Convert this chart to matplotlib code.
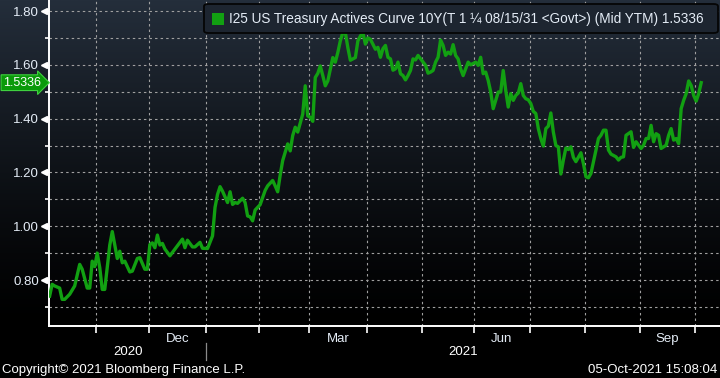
import numpy as np
import matplotlib
matplotlib.use("Agg")
import matplotlib.pyplot as plt
import matplotlib.transforms as mtransforms
from matplotlib.patches import FancyBboxPatch, Rectangle

# ---------------- data ----------------
dates = [
    "2020-10-06", "2020-10-07", "2020-10-08", "2020-10-12", "2020-10-13", "2020-10-14",
    "2020-10-16", "2020-10-20", "2020-10-22", "2020-10-23", "2020-10-27", "2020-10-28",
    "2020-10-29", "2020-10-30", "2020-11-02", "2020-11-03", "2020-11-04", "2020-11-05",
    "2020-11-09", "2020-11-10", "2020-11-12", "2020-11-13", "2020-11-16", "2020-11-17",
    "2020-11-19", "2020-11-20", "2020-11-24", "2020-11-25", "2020-11-27", "2020-11-30",
    "2020-12-01", "2020-12-02", "2020-12-03", "2020-12-04", "2020-12-07", "2020-12-08",
    "2020-12-09", "2020-12-11", "2020-12-15", "2020-12-16", "2020-12-18", "2020-12-21",
    "2020-12-22", "2020-12-24", "2020-12-25", "2020-12-29", "2020-12-30", "2021-01-01",
    "2021-01-05", "2021-01-06", "2021-01-07", "2021-01-08", "2021-01-11", "2021-01-13",
    "2021-01-14", "2021-01-15", "2021-01-18", "2021-01-19", "2021-01-21", "2021-01-22",
    "2021-01-25", "2021-01-26", "2021-01-27", "2021-01-28", "2021-02-01", "2021-02-03",
    "2021-02-04", "2021-02-08", "2021-02-09", "2021-02-10", "2021-02-11", "2021-02-12",
    "2021-02-16", "2021-02-17", "2021-02-18", "2021-02-19", "2021-02-22", "2021-02-24",
    "2021-02-25", "2021-02-26", "2021-03-01", "2021-03-02", "2021-03-03", "2021-03-04",
    "2021-03-05", "2021-03-08", "2021-03-09", "2021-03-10", "2021-03-12", "2021-03-15",
    "2021-03-16", "2021-03-17", "2021-03-18", "2021-03-19", "2021-03-22", "2021-03-23",
    "2021-03-25", "2021-03-26", "2021-03-29", "2021-03-30", "2021-03-31", "2021-04-01",
    "2021-04-02", "2021-04-06", "2021-04-07", "2021-04-08", "2021-04-09", "2021-04-12",
    "2021-04-13", "2021-04-14", "2021-04-15", "2021-04-16", "2021-04-19", "2021-04-20",
    "2021-04-21", "2021-04-22", "2021-04-23", "2021-04-26", "2021-04-27", "2021-04-28",
    "2021-04-29", "2021-05-03", "2021-05-04", "2021-05-05", "2021-05-06", "2021-05-07",
    "2021-05-10", "2021-05-11", "2021-05-12", "2021-05-13", "2021-05-14", "2021-05-17",
    "2021-05-18", "2021-05-19", "2021-05-20", "2021-05-21", "2021-05-24", "2021-05-25",
    "2021-05-26", "2021-05-27", "2021-05-28", "2021-06-01", "2021-06-02", "2021-06-03",
    "2021-06-04", "2021-06-07", "2021-06-08", "2021-06-09", "2021-06-10", "2021-06-11",
    "2021-06-14", "2021-06-15", "2021-06-16", "2021-06-17", "2021-06-18", "2021-06-21",
    "2021-06-22", "2021-06-23", "2021-06-24", "2021-06-25", "2021-06-28", "2021-06-29",
    "2021-06-30", "2021-07-01", "2021-07-02", "2021-07-05", "2021-07-06", "2021-07-07",
    "2021-07-08", "2021-07-09", "2021-07-12", "2021-07-13", "2021-07-14", "2021-07-15",
    "2021-07-16", "2021-07-19", "2021-07-20", "2021-07-21", "2021-07-22", "2021-07-23",
    "2021-07-26", "2021-07-27", "2021-07-29", "2021-07-30", "2021-08-02", "2021-08-03",
    "2021-08-04", "2021-08-06", "2021-08-09", "2021-08-10", "2021-08-11", "2021-08-12",
    "2021-08-13", "2021-08-16", "2021-08-18", "2021-08-19", "2021-08-20", "2021-08-23",
    "2021-08-24", "2021-08-26", "2021-08-27", "2021-08-30", "2021-09-01", "2021-09-02",
    "2021-09-03", "2021-09-06", "2021-09-07", "2021-09-08", "2021-09-09", "2021-09-10",
    "2021-09-13", "2021-09-14", "2021-09-15", "2021-09-16", "2021-09-17", "2021-09-20",
    "2021-09-21", "2021-09-22", "2021-09-23", "2021-09-24", "2021-09-27", "2021-09-28",
    "2021-09-29", "2021-09-30", "2021-10-01", "2021-10-04", "2021-10-05",
]
yields = [
    0.740, 0.784, 0.778, 0.770, 0.728, 0.728,
    0.747, 0.778, 0.858, 0.840, 0.770, 0.770,
    0.870, 0.850, 0.900, 0.846, 0.765, 0.765,
    0.930, 0.980, 0.880, 0.907, 0.864, 0.870,
    0.830, 0.833, 0.880, 0.883, 0.840, 0.840,
    0.932, 0.938, 0.920, 0.967, 0.930, 0.936,
    0.915, 0.890, 0.915, 0.927, 0.952, 0.920,
    0.948, 0.923, 0.923, 0.940, 0.918, 0.917,
    0.964, 1.070, 1.118, 1.147, 1.130, 1.088,
    1.128, 1.081, 1.088, 1.085, 1.104, 1.088,
    1.038, 1.035, 1.020, 1.060, 1.080, 1.133,
    1.150, 1.170, 1.150, 1.128, 1.190, 1.244,
    1.306, 1.280, 1.337, 1.368, 1.350, 1.417,
    1.522, 1.410, 1.405, 1.390, 1.553, 1.568,
    1.596, 1.560, 1.522, 1.540, 1.627, 1.610,
    1.646, 1.689, 1.720, 1.720, 1.664, 1.617,
    1.627, 1.689, 1.707, 1.720, 1.677, 1.700,
    1.695, 1.658, 1.665, 1.628, 1.660, 1.672,
    1.628, 1.622, 1.580, 1.585, 1.610, 1.567,
    1.560, 1.544, 1.560, 1.579, 1.622, 1.618,
    1.635, 1.610, 1.598, 1.569, 1.573, 1.579,
    1.610, 1.628, 1.692, 1.672, 1.635, 1.647,
    1.640, 1.675, 1.635, 1.622, 1.585, 1.560,
    1.585, 1.610, 1.600, 1.610, 1.598, 1.628,
    1.567, 1.573, 1.542, 1.499, 1.437, 1.468,
    1.499, 1.499, 1.579, 1.505, 1.443, 1.493,
    1.468, 1.486, 1.495, 1.530, 1.486, 1.474,
    1.470, 1.456, 1.427, 1.419, 1.363, 1.326,
    1.298, 1.363, 1.372, 1.421, 1.350, 1.300,
    1.295, 1.194, 1.246, 1.291, 1.285, 1.295,
    1.256, 1.240, 1.273, 1.233, 1.184, 1.180,
    1.196, 1.283, 1.326, 1.338, 1.357, 1.357,
    1.283, 1.268, 1.258, 1.246, 1.256, 1.258,
    1.338, 1.351, 1.293, 1.314, 1.289, 1.301,
    1.326, 1.326, 1.375, 1.314, 1.344, 1.338,
    1.289, 1.295, 1.301, 1.338, 1.363, 1.320,
    1.326, 1.307, 1.437, 1.468, 1.493, 1.540,
    1.523, 1.486, 1.465, 1.493, 1.5336,
]
last_value = 1.5336

month_starts = ["2020-11-01", "2020-12-01", "2021-01-01", "2021-02-01", "2021-03-01",
                "2021-04-01", "2021-05-01", "2021-06-01", "2021-07-01", "2021-08-01",
                "2021-09-01", "2021-10-01"]
labelled_months = [("Dec", "2020-12-01", "2021-01-01"), ("Mar", "2021-03-01", "2021-04-01"),
                   ("Jun", "2021-06-01", "2021-07-01"), ("Sep", "2021-09-01", "2021-10-01")]
years = ["2020", "2021"]
year_break = "2021-01-01"
origin = "2020-10-05"

y_major = [0.80, 1.00, 1.20, 1.40, 1.60, 1.80]
y_minor = [0.70, 0.90, 1.10, 1.30, 1.50, 1.70]

legend_text = "I25 US Treasury Actives Curve 10Y(T 1 \u00bc 08/15/31 <Govt>) (Mid YTM) 1.5336"
copyright_text = "Copyright\u00a9 2021 Bloomberg Finance L.P."
stamp_text = "05-Oct-2021 15:08:04"

# ---------------- styling ----------------
LINE = "#12a012"
TXT = "#e4ecf6"
GRID = "#a0a0a0"
FONT = ["Liberation Sans", "DejaVu Sans"]
plt.rcParams["font.family"] = FONT

W, H = 720, 378
fig = plt.figure(figsize=(W / 100, H / 100), dpi=100, facecolor="black")

ax_left, ax_bottom = 49 / W, 52 / H
ax = fig.add_axes([ax_left, ax_bottom, 1 - ax_left, 1 - ax_bottom])

# gradient background (whole width, above x-axis)
bg = fig.add_axes([0, ax_bottom, 1, 1 - ax_bottom], zorder=-5)
t = np.linspace(0, 1, 300)[:, None]
top = np.array([36, 46, 59]) / 255.0
grad = top[None, None, :] * ((1 - t) ** 1.25)[:, :, None]
grad = np.repeat(grad, 2, axis=1)
bg.imshow(grad, aspect="auto", extent=[0, 1, 0, 1], origin="upper")
bg.set_axis_off()
ax.set_facecolor("none")


def bpos(d):
    return float(np.busday_count(origin, d))


x = np.array([bpos(d) for d in dates])
ax.plot(x, yields, color=LINE, lw=2.4, solid_joinstyle="round", zorder=3)

month_pos = [bpos(m) - 0.5 for m in month_starts]
ax.set_xlim(0.75, 268.5)
ax.set_ylim(0.629, 1.841)

# grid
dash = (0, (2.2, 2.8))
for mp in month_pos:
    ax.axvline(mp, color=GRID, lw=0.8, ls=dash, zorder=1)
for yv in y_major + y_minor:
    ax.axhline(yv, color=GRID, lw=0.8, ls=dash, zorder=1)

# spines
for s in ["top", "right"]:
    ax.spines[s].set_visible(False)
for s in ["left", "bottom"]:
    ax.spines[s].set_color("white")
    ax.spines[s].set_linewidth(1.4)

# y ticks
ax.set_yticks(y_major)
ax.set_yticklabels([f"{v:.2f}" for v in y_major])
ax.set_yticks(y_minor, minor=True)
ax.tick_params(axis="y", which="major", colors="white", length=3, width=1.2,
               labelcolor=TXT, labelsize=9.5, pad=4)
ax.tick_params(axis="y", which="minor", colors="white", length=3, width=1.2)
trans_y = mtransforms.blended_transform_factory(ax.transAxes, ax.transData)
off = mtransforms.ScaledTranslation(-5 / 100, 0, fig.dpi_scale_trans)
ax.plot([0] * len(y_major), y_major, ls="none", marker="<", ms=4.5, color="white",
        transform=trans_y + off, clip_on=False, zorder=5)

# x ticks: minor at month boundaries, labels at quarter-month centres
ax.set_xticks(month_pos, minor=True)
centres = [(bpos(a) + bpos(b)) / 2 - 0.5 for _, a, b in labelled_months]
ax.set_xticks(centres)
ax.set_xticklabels([m for m, _, _ in labelled_months])
ax.tick_params(axis="x", which="major", length=0, labelcolor=TXT, labelsize=9.5, pad=5)
ax.tick_params(axis="x", which="minor", colors="white", length=5, width=1.2)

# year labels and separator
yb = bpos(year_break) - 0.5
trans_x = mtransforms.blended_transform_factory(ax.transData, fig.transFigure)
xl, xr = ax.get_xlim()
ax.text((xl + yb) / 2, 1 - 352 / H, years[0], transform=trans_x, ha="center", va="center",
        color="white", fontsize=9.5)
ax.text((yb + xr) / 2, 1 - 352 / H, years[1], transform=trans_x, ha="center", va="center",
        color="white", fontsize=9.5)
ax.plot([yb, yb], [1 - 343 / H, 1 - 360 / H], color="#8a8a8a", lw=0.9,
        transform=trans_x, clip_on=False)

# last value tag
ax.text(-0.012, last_value, f"{last_value:.4f}", transform=trans_y, ha="right", va="center",
        color="white", fontsize=9.0, zorder=6,
        bbox=dict(boxstyle="rarrow,pad=0.15", fc="#0a9a0a", ec="#3fd03f", lw=0.8))

# legend box
fig.patches.append(FancyBboxPatch((204 / W, 1 - 33 / H), 514 / W, 29 / H,
                                  boxstyle="round,pad=0,rounding_size=0.006",
                                  transform=fig.transFigure, fc="#1d2530", ec="#050505",
                                  lw=1.3, zorder=10))
fig.patches.append(Rectangle((212 / W, 1 - 24.5 / H), 11.5 / W, 11.5 / H,
                             transform=fig.transFigure, fc="#12a012", ec="none", zorder=11))
fig.text(229 / W, 1 - 18.5 / H, legend_text, color=TXT, fontsize=9.85, va="center",
         ha="left", zorder=12)

# footer
fig.text(2 / W, 1 - 370 / H, copyright_text, color="white", fontsize=9.5, va="center", ha="left")
fig.text(717 / W, 1 - 370 / H, stamp_text, color="white", fontsize=9.5, va="center", ha="right")

fig.savefig("out.png", dpi=100, facecolor="black")
